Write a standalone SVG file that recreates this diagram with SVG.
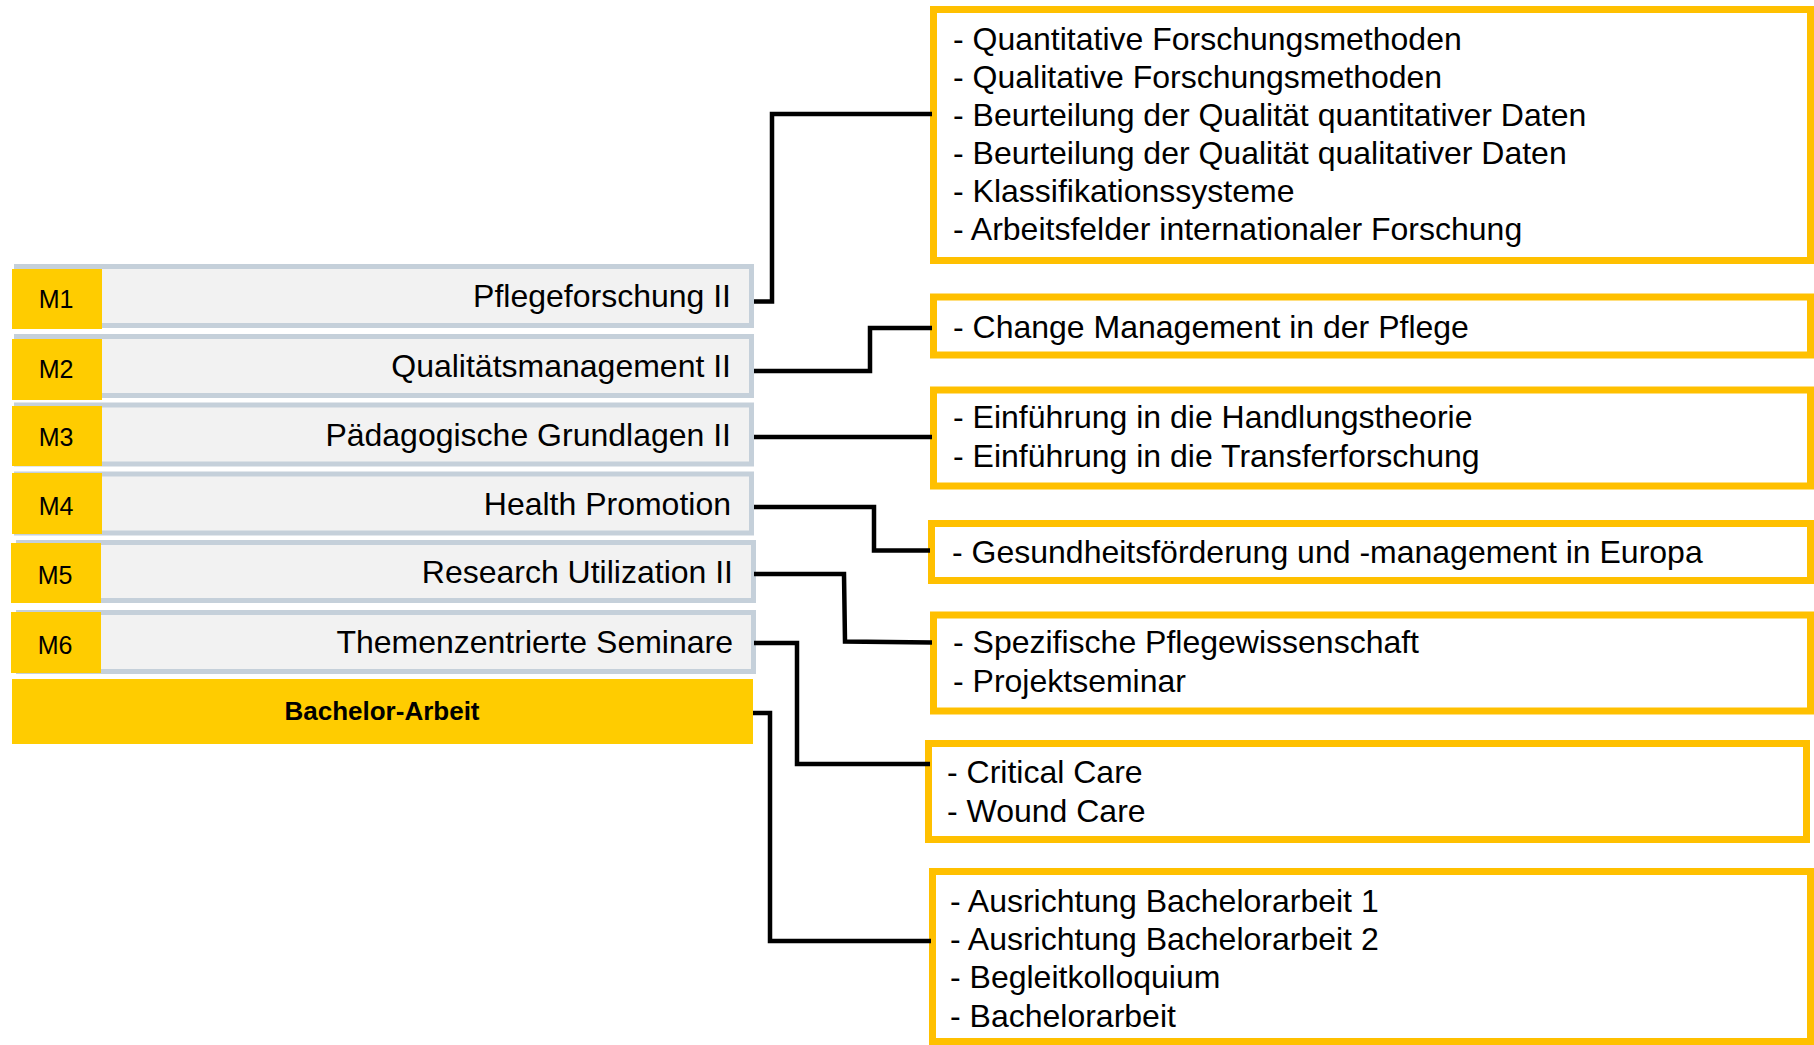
<svg xmlns="http://www.w3.org/2000/svg" width="1814" height="1045" viewBox="0 0 1814 1045">
<style>
.bar{fill:#F2F2F2;stroke:#C5D0DA;stroke-width:5}
.tag{fill:#FFCC00}
.tagt{font-family:"Liberation Sans",Arial,sans-serif;font-size:25px;fill:#000;text-anchor:middle}
.lbl{font-family:"Liberation Sans",Arial,sans-serif;font-size:32px;fill:#000;text-anchor:end}
.box{fill:#FFFFFF;stroke:#FFC000;stroke-width:7}
.bt{font-family:"Liberation Sans",Arial,sans-serif;font-size:32px;fill:#000}
.bold{font-family:"Liberation Sans",Arial,sans-serif;font-size:26px;font-weight:bold;fill:#000;text-anchor:middle}
.con{fill:none;stroke:#000;stroke-width:4.5}
</style>
<rect width="1814" height="1045" fill="#FFFFFF"/>
<g id="M1"><rect class="bar" x="16.5" y="266.5" width="735" height="59"/><rect class="tag" x="12" y="269" width="90" height="60"/><text class="tagt" x="56" y="308">M1</text><text class="lbl" x="731" y="307">Pflegeforschung II</text></g>
<g id="M2"><rect class="bar" x="16.5" y="336.5" width="735" height="59"/><rect class="tag" x="12" y="339" width="90" height="61"/><text class="tagt" x="56" y="378">M2</text><text class="lbl" x="731" y="377">Qualitätsmanagement II</text></g>
<g id="M3"><rect class="bar" x="16.5" y="405" width="735" height="59"/><rect class="tag" x="12" y="406" width="90" height="60"/><text class="tagt" x="56" y="446">M3</text><text class="lbl" x="731" y="446">Pädagogische Grundlagen II</text></g>
<g id="M4"><rect class="bar" x="16.5" y="474" width="735" height="59"/><rect class="tag" x="12" y="473" width="90" height="61"/><text class="tagt" x="56" y="515">M4</text><text class="lbl" x="731" y="515">Health Promotion</text></g>
<g id="M5"><rect class="bar" x="18.5" y="542.5" width="735" height="58"/><rect class="tag" x="11" y="543" width="90" height="60"/><text class="tagt" x="55" y="584">M5</text><text class="lbl" x="733" y="583">Research Utilization II</text></g>
<g id="M6"><rect class="bar" x="18.5" y="612.5" width="735" height="59"/><rect class="tag" x="11" y="612" width="90" height="61"/><text class="tagt" x="55" y="654">M6</text><text class="lbl" x="733" y="653">Themenzentrierte Seminare</text></g>
<g id="BA"><rect x="12" y="679" width="741" height="65" fill="#FFCC00"/><text class="bold" x="382" y="720">Bachelor-Arbeit</text></g>
<g id="B1"><rect class="box" x="933.5" y="9.5" width="877" height="251"/>
<text class="bt" x="953" y="50">- Quantitative Forschungsmethoden</text>
<text class="bt" x="953" y="88">- Qualitative Forschungsmethoden</text>
<text class="bt" x="953" y="126">- Beurteilung der Qualität quantitativer Daten</text>
<text class="bt" x="953" y="164">- Beurteilung der Qualität qualitativer Daten</text>
<text class="bt" x="953" y="202">- Klassifikationssysteme</text>
<text class="bt" x="953" y="240">- Arbeitsfelder internationaler Forschung</text></g>
<g id="B2"><rect class="box" x="933.5" y="297" width="877" height="58"/><text class="bt" x="953" y="338">- Change Management in der Pflege</text></g>
<g id="B3"><rect class="box" x="933.5" y="390" width="877" height="96"/><text class="bt" x="953" y="428">- Einführung in die Handlungstheorie</text><text class="bt" x="953" y="467">- Einführung in die Transferforschung</text></g>
<g id="B4"><rect class="box" x="931.5" y="523.5" width="879" height="57"/><text class="bt" x="952" y="563">- Gesundheitsförderung und -management in Europa</text></g>
<g id="B5"><rect class="box" x="933.5" y="615" width="877" height="96"/><text class="bt" x="953" y="653">- Spezifische Pflegewissenschaft</text><text class="bt" x="953" y="692">- Projektseminar</text></g>
<g id="B6"><rect class="box" x="928.5" y="743.5" width="878" height="96"/><text class="bt" x="947" y="783">- Critical Care</text><text class="bt" x="947" y="822">- Wound Care</text></g>
<g id="B7"><rect class="box" x="932.5" y="871.5" width="878" height="170"/>
<text class="bt" x="950" y="912">- Ausrichtung Bachelorarbeit 1</text>
<text class="bt" x="950" y="950">- Ausrichtung Bachelorarbeit 2</text>
<text class="bt" x="950" y="988">- Begleitkolloquium</text>
<text class="bt" x="950" y="1027">- Bachelorarbeit</text></g>
<g id="connectors">
<polyline class="con" points="754,301.5 772,301.5 772,114 932,114"/>
<polyline class="con" points="754,371 870,371 870,328 932,328"/>
<polyline class="con" points="754,437 932,437"/>
<polyline class="con" points="754,507 874,507 874,550.5 930,550.5"/>
<polyline class="con" points="754,574 844,574 845,641.5 932,642.5"/>
<polyline class="con" points="754,643 797,643 797,764 930,764"/>
<polyline class="con" points="753,713 770,713 770,941 931,941"/>
</g>
</svg>
